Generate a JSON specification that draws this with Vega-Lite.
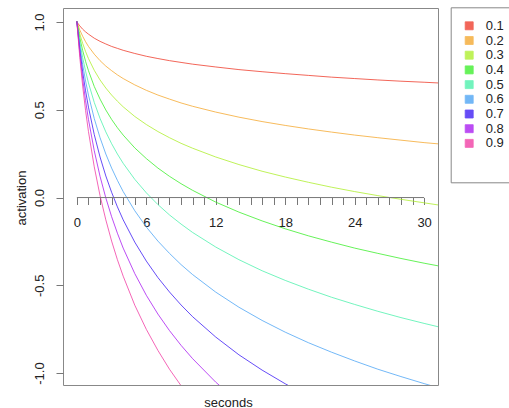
{
  "$schema": "https://vega.github.io/schema/vega-lite/v6.json",
  "width": 375,
  "height": 377,
  "autosize": "none",
  "padding": {"left": 63, "top": 8, "right": 71, "bottom": 23},
  "background": "white",
  "config": {
    "view": {"stroke": "#888", "strokeWidth": 1},
    "font": "Liberation Sans",
    "axis": {"labelFont": "Liberation Sans", "titleFont": "Liberation Sans", "labelFontSize": 13, "titleFontSize": 13, "labelColor": "#222", "titleColor": "#222", "titleFontWeight": "normal", "tickColor": "#777", "grid": false}
  },
  "datasets": {
    "curves": [
      {"t": 0, "d1": 1, "d2": 1, "d3": 1, "d4": 1, "d5": 1, "d6": 1, "d7": 1, "d8": 1, "d9": 1},
      {"t": 0.25, "d1": 0.978, "d2": 0.955, "d3": 0.933, "d4": 0.911, "d5": 0.888, "d6": 0.866, "d7": 0.844, "d8": 0.821, "d9": 0.799},
      {"t": 0.5, "d1": 0.959, "d2": 0.919, "d3": 0.878, "d4": 0.838, "d5": 0.797, "d6": 0.757, "d7": 0.716, "d8": 0.676, "d9": 0.635},
      {"t": 0.75, "d1": 0.944, "d2": 0.888, "d3": 0.832, "d4": 0.776, "d5": 0.720, "d6": 0.664, "d7": 0.608, "d8": 0.552, "d9": 0.496},
      {"t": 1, "d1": 0.931, "d2": 0.861, "d3": 0.792, "d4": 0.723, "d5": 0.653, "d6": 0.584, "d7": 0.515, "d8": 0.445, "d9": 0.376},
      {"t": 1.5, "d1": 0.908, "d2": 0.817, "d3": 0.725, "d4": 0.633, "d5": 0.542, "d6": 0.450, "d7": 0.359, "d8": 0.267, "d9": 0.175},
      {"t": 2, "d1": 0.890, "d2": 0.780, "d3": 0.670, "d4": 0.561, "d5": 0.451, "d6": 0.341, "d7": 0.231, "d8": 0.121, "d9": 0.011},
      {"t": 2.5, "d1": 0.875, "d2": 0.749, "d3": 0.624, "d4": 0.499, "d5": 0.374, "d6": 0.248, "d7": 0.123, "d8": -0.002, "d9": -0.127},
      {"t": 3, "d1": 0.861, "d2": 0.723, "d3": 0.584, "d4": 0.445, "d5": 0.307, "d6": 0.168, "d7": 0.030, "d8": -0.109, "d9": -0.248},
      {"t": 3.5, "d1": 0.850, "d2": 0.699, "d3": 0.549, "d4": 0.398, "d5": 0.248, "d6": 0.098, "d7": -0.053, "d8": -0.203, "d9": -0.354},
      {"t": 4, "d1": 0.839, "d2": 0.678, "d3": 0.517, "d4": 0.356, "d5": 0.195, "d6": 0.034, "d7": -0.127, "d8": -0.288, "d9": -0.448},
      {"t": 5, "d1": 0.821, "d2": 0.642, "d3": 0.462, "d4": 0.283, "d5": 0.104, "d6": -0.075, "d7": -0.254, "d8": -0.433, "d9": -0.613},
      {"t": 6, "d1": 0.805, "d2": 0.611, "d3": 0.416, "d4": 0.222, "d5": 0.027, "d6": -0.168, "d7": -0.362, "d8": -0.557, "d9": -0.751},
      {"t": 7, "d1": 0.792, "d2": 0.584, "d3": 0.376, "d4": 0.168, "d5": -0.040, "d6": -0.248, "d7": -0.456, "d8": -0.664, "d9": -0.871},
      {"t": 8, "d1": 0.780, "d2": 0.561, "d3": 0.341, "d4": 0.121, "d5": -0.099, "d6": -0.318, "d7": -0.538, "d8": -0.758, "d9": -0.978},
      {"t": 9, "d1": 0.770, "d2": 0.539, "d3": 0.309, "d4": 0.079, "d5": -0.151, "d6": -0.382, "d7": -0.612, "d8": -0.842, "d9": -1.072},
      {"t": 10, "d1": 0.760, "d2": 0.520, "d3": 0.281, "d4": 0.041, "d5": -0.199, "d6": -0.439, "d7": -0.679, "d8": -0.918, "d9": -1.158},
      {"t": 12, "d1": 0.744, "d2": 0.487, "d3": 0.231, "d4": -0.026, "d5": -0.282, "d6": -0.539, "d7": -0.795, "d8": -1.052, "d9": -1.308},
      {"t": 14, "d1": 0.729, "d2": 0.458, "d3": 0.188, "d4": -0.083, "d5": -0.354, "d6": -0.625, "d7": -0.896, "d8": -1.166, "d9": -1.437},
      {"t": 16, "d1": 0.717, "d2": 0.433, "d3": 0.150, "d4": -0.133, "d5": -0.417, "d6": -0.700, "d7": -0.983, "d8": -1.267, "d9": -1.550},
      {"t": 18, "d1": 0.706, "d2": 0.411, "d3": 0.117, "d4": -0.178, "d5": -0.472, "d6": -0.767, "d7": -1.061, "d8": -1.356, "d9": -1.650},
      {"t": 20, "d1": 0.696, "d2": 0.391, "d3": 0.087, "d4": -0.218, "d5": -0.522, "d6": -0.827, "d7": -1.131, "d8": -1.436, "d9": -1.740},
      {"t": 22, "d1": 0.686, "d2": 0.373, "d3": 0.059, "d4": -0.254, "d5": -0.568, "d6": -0.881, "d7": -1.195, "d8": -1.508, "d9": -1.822},
      {"t": 24, "d1": 0.678, "d2": 0.356, "d3": 0.034, "d4": -0.288, "d5": -0.609, "d6": -0.931, "d7": -1.253, "d8": -1.575, "d9": -1.897},
      {"t": 26, "d1": 0.670, "d2": 0.341, "d3": 0.011, "d4": -0.318, "d5": -0.648, "d6": -0.978, "d7": -1.307, "d8": -1.637, "d9": -1.966},
      {"t": 28, "d1": 0.663, "d2": 0.327, "d3": -0.010, "d4": -0.347, "d5": -0.684, "d6": -1.020, "d7": -1.357, "d8": -1.694, "d9": -2.031},
      {"t": 30, "d1": 0.657, "d2": 0.313, "d3": -0.030, "d4": -0.374, "d5": -0.717, "d6": -1.060, "d7": -1.404, "d8": -1.747, "d9": -2.091},
      {"t": 31.2, "d1": 0.653, "d2": 0.306, "d3": -0.042, "d4": -0.389, "d5": -0.736, "d6": -1.083, "d7": -1.430, "d8": -1.778, "d9": -2.125}
    ],
    "axisline": [{"t": 0, "t2": 30, "a": 0}]
  },
  "encoding": {
    "x": {"field": "t", "type": "quantitative",
      "scale": {"domain": [-1.2, 31.2], "nice": false, "zero": false},
      "axis": {"orient": "bottom", "offset": -187.5, "domain": false, "values": [0,1,2,3,4,5,6,7,8,9,10,11,12,13,14,15,16,17,18,19,20,21,22,23,24,25,26,27,28,29,30],
        "labelExpr": "datum.value % 6 === 0 ? datum.label : ''", "tickSize": 7, "labelPadding": 12, "labelFlush": false, "labelOverlap": false,
        "title": "seconds", "titleX": 165, "titleY": 208.5, "titleBaseline": "alphabetic", "titleAlign": "center"}},
    "y": {"field": "a", "type": "quantitative",
      "scale": {"domain": [-1.068, 1.08], "nice": false, "zero": false},
      "axis": {"domain": false, "values": [-1, -0.5, 0, 0.5, 1], "labelExpr": "(datum.value < 0 ? '-' : '') + format(abs(datum.value), '.1f')",
        "labelAngle": -90, "labelAlign": "center", "labelBaseline": "alphabetic", "tickSize": 7, "labelPadding": 12.5,
        "title": "activation", "titleX": -38, "titleY": 189.5, "titleAngle": -90, "titleBaseline": "alphabetic", "titleAlign": "center"}}
  },
  "layer": [
    {
      "data": {"name": "curves"},
      "transform": [{"fold": ["d1", "d2", "d3", "d4", "d5", "d6", "d7", "d8", "d9"], "as": ["key", "a"]}, {"filter": "datum.t === 0"}],
      "mark": {"type": "point", "shape": "square", "filled": true, "size": 1, "opacity": 1, "clip": true},
      "encoding": {
        "color": {"field": "key", "type": "nominal",
          "scale": {"domain": ["d1", "d2", "d3", "d4", "d5", "d6", "d7", "d8", "d9"],
            "range": ["#EE3322", "#F4A425", "#AAEE22", "#33EE22", "#44F0A8", "#44A0F4", "#3311F4", "#A511F0", "#F0339F"]},
          "legend": {"orient": "none", "legendX": 387.7, "legendY": -0.7, "title": " ", "titleOrient": "bottom", "titleFontSize": 12, "titlePadding": 9,
            "labelExpr": "'0.' + slice(datum.label, 1)", "labelFont": "Liberation Sans", "labelFontSize": 13, "labelColor": "#222", "labelOffset": 10,
            "symbolType": "square", "symbolSize": 64, "symbolStrokeColor": "#666", "symbolStrokeWidth": 0.8, "symbolOpacity": 1, "rowPadding": 0.7, "padding": 12, "strokeColor": "#888"}}
      }
    },
    {
      "data": {"name": "curves"},
      "transform": [{"fold": ["d1", "d2", "d3", "d4", "d5", "d6", "d7", "d8", "d9"], "as": ["key", "a"]}],
      "mark": {"type": "line", "clip": true, "strokeWidth": 1, "opacity": 0.75},
      "encoding": {
        "color": {"field": "key", "type": "nominal"}
      }
    },
    {
      "data": {"name": "axisline"},
      "mark": {"type": "rule", "color": "#777", "strokeWidth": 1},
      "encoding": {
        "x2": {"field": "t2"}
      }
    }
  ]
}
